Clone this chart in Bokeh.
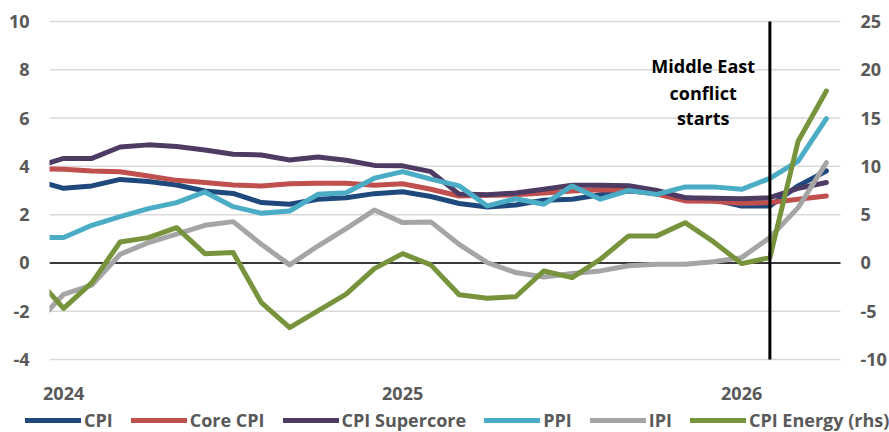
from bokeh.plotting import figure
from bokeh.models import Range1d, Legend, LegendItem, Label
from bokeh.core.properties import value
from bokeh.embed import file_html
from bokeh.resources import INLINE

# ---- data (monthly, y/y %) ----
months = ["2023-12",
          "2024-01", "2024-02", "2024-03", "2024-04", "2024-05", "2024-06",
          "2024-07", "2024-08", "2024-09", "2024-10", "2024-11", "2024-12",
          "2025-01", "2025-02", "2025-03", "2025-04", "2025-05", "2025-06",
          "2025-07", "2025-08", "2025-09", "2025-10", "2025-11", "2025-12",
          "2026-01", "2026-02", "2026-03", "2026-04"]

cpi = [3.42, 3.09, 3.19, 3.46, 3.37, 3.23, 2.98, 2.88, 2.50, 2.43,
       2.64, 2.70, 2.87, 2.95, 2.75, 2.46, 2.32, 2.40, 2.60, 2.64,
       2.82, 2.98, 2.90, 2.70, 2.62, 2.36, 2.36, 3.19, 3.81]
core_cpi = [3.90, 3.88, 3.81, 3.78, 3.60, 3.42, 3.33, 3.23, 3.19, 3.28,
            3.30, 3.30, 3.22, 3.28, 3.05, 2.77, 2.80, 2.82, 2.90, 2.98,
            3.03, 3.00, 2.85, 2.57, 2.55, 2.47, 2.50, 2.64, 2.77]
supercore = [3.97, 4.33, 4.33, 4.80, 4.89, 4.82, 4.68, 4.50, 4.47, 4.26,
             4.39, 4.25, 4.04, 4.02, 3.78, 2.85, 2.82, 2.90, 3.05, 3.22,
             3.22, 3.20, 3.00, 2.70, 2.68, 2.66, 2.70, 3.09, 3.33]
ppi = [1.05, 1.05, 1.56, 1.92, 2.25, 2.50, 2.94, 2.33, 2.06, 2.15,
       2.84, 2.91, 3.51, 3.78, 3.47, 3.19, 2.36, 2.66, 2.43, 3.19,
       2.64, 3.00, 2.84, 3.15, 3.15, 3.05, 3.50, 4.22, 5.98]
ipi = [-2.54, -1.30, -0.92, 0.36, 0.84, 1.19, 1.56, 1.71, 0.77, -0.08,
       0.70, 1.42, 2.19, 1.67, 1.70, 0.77, 0.01, -0.40, -0.58, -0.44,
       -0.33, -0.12, -0.05, -0.05, 0.05, 0.22, 1.05, 2.29, 4.15]
cpi_energy = [-1.44, -4.70, -2.04, 2.17, 2.62, 3.65, 0.96, 1.07, -4.11, -6.70,
              -4.97, -3.24, -0.59, 0.96, -0.20, -3.30, -3.65, -3.50, -0.83, -1.52,
              0.38, 2.80, 2.80, 4.17, 2.20, -0.07, 0.55, 12.60, 17.80]

series_names = ["CPI", "Core CPI", "CPI Supercore", "PPI", "IPI", "CPI Energy (rhs)"]
series_colors = ["#1F497D", "#C0504D", "#4E3B63", "#4BACC6", "#A5A5A5", "#77933C"]

left_ticks = [-4, -2, 0, 2, 4, 6, 8, 10]
right_ticks = [-10, -5, 0, 5, 10, 15, 20, 25]
year_labels = ["2024", "2025", "2026"]
event_month = "2026-02"
event_text = ["Middle East", "conflict", "starts"]

# ---- layout constants (pixels) ----
W, H = 889, 432
PLOT_L, PLOT_R, PLOT_T, PLOT_B = 49, 840, 21, 359
FONT = "Open Sans"
GREY = "#595959"

# ---- derived positions ----
x = list(range(len(months)))
year_ticks = [i for i, m in enumerate(months) if m.endswith("-01")]
event_x = months.index(event_month)

x_first, x_last = 0.5, len(months) - 0.5
ux = (PLOT_R - PLOT_L) / (x_last - x_first)
y_lo_t, y_hi_t = left_ticks[0], left_ticks[-1]
uy = (PLOT_B - PLOT_T) / (y_hi_t - y_lo_t)
y_lo = y_lo_t - (H - PLOT_B) / uy
y_hi = y_hi_t + PLOT_T / uy
k = (right_ticks[-1] - right_ticks[0]) / (y_hi_t - y_lo_t)

p = figure(width=W, height=H, output_backend="svg", toolbar_location=None,
           x_range=Range1d(x_first - PLOT_L / ux, x_last + (W - PLOT_R) / ux),
           y_range=Range1d(y_lo, y_hi),
           x_axis_location=None, y_axis_location=None,
           min_border_left=0, min_border_right=0, min_border_top=0,
           min_border_bottom=0)
p.extra_y_ranges = {"rhs": Range1d(k * y_lo, k * y_hi)}
p.grid.visible = False
p.outline_line_color = None
p.background_fill_color = "white"
p.border_fill_color = "white"

# gridlines
n = len(left_ticks)
p.segment(x0=[x_first] * n, x1=[x_last] * n, y0=left_ticks, y1=left_ticks,
          line_color="#D9D9D9", line_width=1.5)
# zero line
p.segment(x0=[x_first], x1=[x_last], y0=[0], y1=[0], line_color="black",
          line_width=1.5)

# series
all_series = [cpi, core_cpi, supercore, ppi, ipi, cpi_energy]
renderers = []
for name, vals, col in zip(series_names, all_series, series_colors):
    kw = {"y_range_name": "rhs"} if name.endswith("(rhs)") else {}
    r = p.line(x, vals, line_width=5, line_color=col, line_join="round",
               line_cap="round", **kw)
    renderers.append(r)

# mask the part of the series before the left edge of the plot area
p.quad(left=[x_first - PLOT_L / ux], right=[x_first], bottom=[y_lo], top=[y_hi],
       fill_color="white", line_color=None)

# event line
p.segment(x0=[event_x], x1=[event_x], y0=[y_lo_t], y1=[y_hi_t],
          line_color="black", line_width=3)

# axis labels
tick_style = dict(text_font=value(FONT), text_font_style="bold",
                  text_font_size="18px", text_color=GREY)
p.text(x=[x_first] * n, y=left_ticks, text=[str(t) for t in left_ticks],
       x_offset=-20, text_align="right", text_baseline="middle", **tick_style)
p.text(x=[x_last] * len(right_ticks), y=right_ticks,
       text=[str(t) for t in right_ticks], y_range_name="rhs",
       x_offset=20, text_align="left", text_baseline="middle", **tick_style)
p.text(x=year_ticks, y=[y_lo_t] * len(year_ticks), text=year_labels,
       y_offset=34, text_align="center", text_baseline="alphabetic", **tick_style)

# annotation
for txt, yv in zip(event_text, [8.16, 7.05, 6.0]):
    p.add_layout(Label(x=event_x - 2.36, y=yv, text=txt, text_align="center",
                       text_baseline="alphabetic", text_font=FONT,
                       text_font_style="bold", text_font_size="18px",
                       text_color="black"))

legend = Legend(items=[LegendItem(label=nm, renderers=[r]) for nm, r in zip(series_names, renderers)],
                orientation="horizontal", location=(25, 0),
                label_text_font=FONT, label_text_font_style="bold",
                label_text_font_size="18px", label_text_color=GREY,
                glyph_width=56, glyph_height=20, label_height=20,
                label_standoff=3, spacing=18,
                padding=0, margin=0, border_line_color=None,
                background_fill_alpha=0)
p.add_layout(legend)

open("out.html", "w").write(file_html(p, INLINE))
